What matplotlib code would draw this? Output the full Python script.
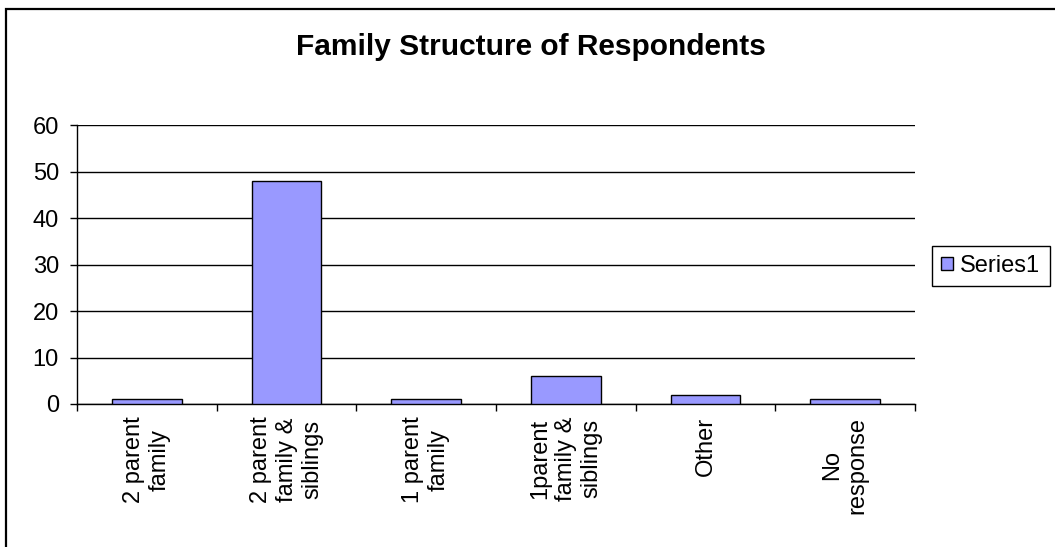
import matplotlib
matplotlib.use("Agg")
import matplotlib.pyplot as plt
from matplotlib.patches import Rectangle
from matplotlib.ticker import FixedLocator

plt.rcParams['font.family'] = ['Liberation Sans', 'DejaVu Sans']

categories = ["2 parent\nfamily", "2 parent\nfamily &\nsiblings",
              "1 parent\nfamily", "1parent\nfamily &\nsiblings",
              "Other", "No\nresponse"]
series1 = [1, 48, 1, 6, 2, 1]
y_ticks = [0, 10, 20, 30, 40, 50, 60]

W, H = 1055, 547
fig = plt.figure(figsize=(W / 100, H / 100), dpi=100)

# chart frame, running off the right and bottom edges
fig.patches.append(Rectangle((6 / W, -0.05), 1.1, 1 - 9 / H + 0.05,
                             transform=fig.transFigure, fill=False,
                             edgecolor='black', linewidth=1.6))

ax = fig.add_axes([77 / W, 1 - 404 / H, (915 - 77) / W, (404 - 125) / H])
x = list(range(len(categories)))
ax.bar(x, series1, width=0.5, color='#9999FF', edgecolor='black',
       linewidth=1.0, label='Series1', zorder=3)

ax.set_xlim(-0.5, len(categories) - 0.5)
ax.set_ylim(0, 60)
ax.set_yticks(y_ticks)
ax.yaxis.grid(True, color='black', linewidth=1.0)
ax.set_axisbelow(True)
for s in ('top', 'right'):
    ax.spines[s].set_visible(False)
ax.spines['left'].set_linewidth(1.0)
ax.spines['bottom'].set_linewidth(1.0)

ax.set_xticks(x)
ax.set_xticklabels(categories, rotation=90, ha='center', va='top',
                   multialignment='center')
ax.xaxis.set_minor_locator(FixedLocator([i - 0.5 for i in range(len(categories) + 1)]))
ax.tick_params(axis='x', which='major', length=0, pad=9, labelsize=17)
ax.tick_params(axis='x', which='minor', length=5, width=1.0, direction='out')
ax.tick_params(axis='y', length=5, width=1.0, labelsize=17, pad=8)

fig.text(531 / W, 1 - 47 / H, "Family Structure of Respondents",
         ha='center', va='center', fontsize=21.5, fontweight='bold')

fig.legend(loc='center left', bbox_to_anchor=(932 / W, 1 - 266 / H),
           fontsize=17, frameon=True, fancybox=False, edgecolor='black',
           framealpha=1, handlelength=0.5, handleheight=0.5,
           handletextpad=0.3, borderpad=0.4, borderaxespad=0)

fig.savefig("out.png", dpi=100)
